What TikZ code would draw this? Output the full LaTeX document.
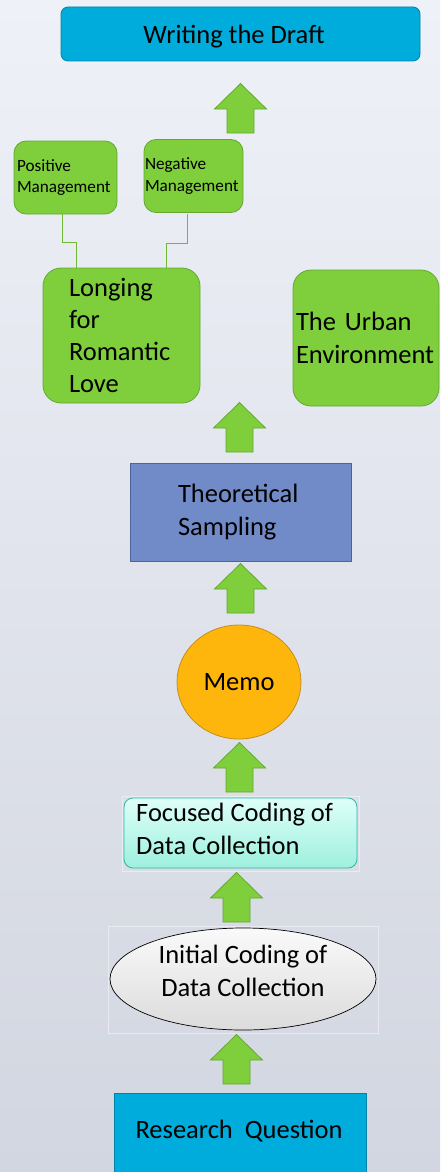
\documentclass[tikz,border=0pt]{standalone}
\usepackage{fontspec}
\setmainfont{Carlito}
\usetikzlibrary{shapes.geometric}
\definecolor{bgtop}{RGB}{239,241,248}
\definecolor{bgbot}{RGB}{210,214,224}
\definecolor{gfill}{RGB}{126,207,59}
\definecolor{gdraw}{RGB}{100,168,48}
\definecolor{bfill}{RGB}{0,172,219}
\definecolor{bdraw}{RGB}{0,130,170}
\definecolor{tfill}{RGB}{113,138,200}
\definecolor{tdraw}{RGB}{78,98,156}
\definecolor{ofill}{RGB}{255,182,12}
\definecolor{odraw}{RGB}{196,140,30}
\definecolor{ctop}{RGB}{222,255,248}
\definecolor{cbot}{RGB}{158,240,222}
\definecolor{cdraw}{RGB}{48,180,168}
\tikzset{
  big/.style={font=\fontsize{26.5}{32.3}\selectfont},
  small/.style={font=\fontsize{17.2}{21.5}\selectfont},
  gbox/.style={draw=gdraw, fill=gfill, rounded corners=18pt, line width=0.8pt},
  sgbox/.style={draw=gdraw, fill=gfill, rounded corners=12pt, line width=0.8pt},
  link/.style={draw=gfill!90!black, line width=0.7pt},
  faintbox/.style={draw=white, draw opacity=0.45, line width=0.4pt},
  uparr/.pic={\draw[draw=gdraw, fill=gfill, line width=0.8pt] (-13.5,24) -- (-13.5,0) -- (-26,0) -- (0,-25.5) -- (26,0) -- (13.5,0) -- (13.5,24) -- cycle;}
}
\begin{document}
\begin{tikzpicture}[x=1pt,y=-1pt]
\useasboundingbox (0,0) rectangle (440,1172);
\clip (0,0) rectangle (440,1172);
\shade[top color=bgtop, bottom color=bgbot] (0,0) rectangle (440,1172);

% Writing the Draft
\node[draw=bdraw, fill=bfill, rounded corners=7pt, line width=0.8pt, minimum width=359pt, minimum height=54pt, inner sep=0pt] (draft) at (240.5,34) {};
\node[big, inner sep=0pt] (drafttext) at (234,37) {Writing the Draft};

% management boxes
\node[sgbox, minimum width=103pt, minimum height=73pt, text width=97pt, align=left, inner sep=0pt, small] (pos) at (65.5,177.5) {Positive\\Management};
\node[sgbox, minimum width=99pt, minimum height=73pt, text width=97pt, align=left, inner sep=0pt, small] (neg) at (193.5,176) {Negative\\Management};

% Longing
\node[gbox, minimum width=157pt, minimum height=135pt, text width=105pt, align=left, inner sep=0pt, big] (long) at (121.5,335.5) {Longing\\for\\Romantic\\Love};
% Urban
\node[gbox, minimum width=146pt, minimum height=136pt, text width=140pt, align=left, inner sep=0pt, big] (urban) at (366,338) {The Urban\\Environment};

% connectors
\draw[link] ([xshift=-3.5pt]pos.south) -- ++(0,28) -| ([xshift=-45.5pt]long.north);
\draw[link] ([xshift=-5.8pt, yshift=-1.5pt]neg.south) -- ++(0,29) -| ([xshift=44.5pt]long.north);

% Theoretical Sampling
\node[draw=tdraw, fill=tfill, line width=0.8pt, minimum width=221pt, minimum height=98pt, text width=125pt, align=left, inner sep=0pt, big] (theo) at (240.5,512) {Theoretical\\Sampling};

% Memo
\node[ellipse, draw=odraw, fill=ofill, line width=0.8pt, minimum width=124pt, minimum height=114pt, inner sep=0pt, big] (memo) at (239,682) {Memo};

% Focused Coding
\draw[faintbox] (122,796) rectangle (359,871);
\node[draw=cdraw, top color=ctop, bottom color=cbot, rounded corners=9pt, line width=0.8pt, minimum width=233pt, minimum height=70pt, inner sep=0pt] (focus) at (240.5,833) {};
\node[big, align=left, inner sep=0pt, anchor=west] (focustext) at (136,829) {Focused Coding of\\Data Collection};

% Initial Coding
\draw[faintbox] (108,926) rectangle (378,1033);
\node[ellipse, draw=black, top color=white!96!gray, bottom color=white!72!gray, line width=0.7pt, minimum width=266pt, minimum height=102pt, inner sep=0pt] (init) at (243,979) {};
\node[big, align=center, inner sep=0pt] (inittext) at (243,971) {Initial Coding of\\Data Collection};

% Research Question
\node[draw=bdraw, fill=bfill, line width=0.8pt, minimum width=252pt, minimum height=100pt, inner sep=0pt, anchor=north] (rq) at (240,1093) {};
\node[big, inner sep=0pt] (rqtext) at (239,1131) {Research\ \ Question};

% block arrows
\pic at (240.5,109) {uparr};
\pic at (239.5,428) {uparr};
\pic at (240.5,589) {uparr};
\pic at (239.5,768) {uparr};
\pic at (236.5,898) {uparr};
\pic at (236.5,1060) {uparr};
\end{tikzpicture}
\end{document}
